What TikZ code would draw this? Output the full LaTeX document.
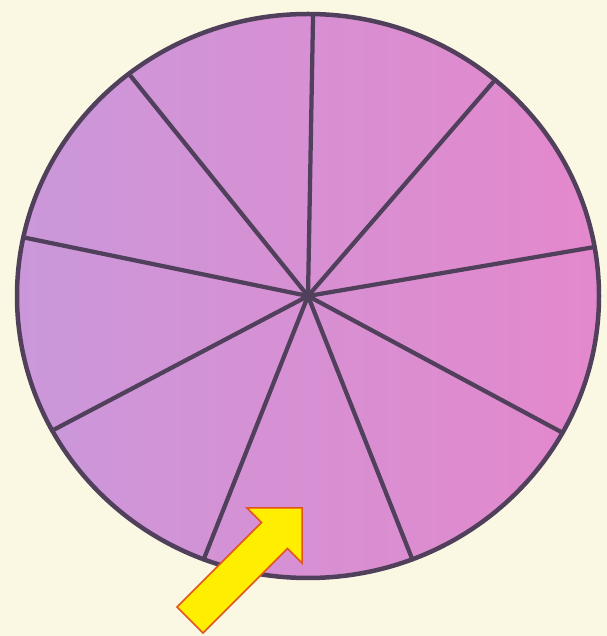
\documentclass[tikz,border=0pt]{standalone}
\usepackage{xcolor}
\usepackage{tikz}
\definecolor{papercream}{RGB}{250,247,226}
\definecolor{wheellilac}{RGB}{202,152,218}
\definecolor{wheelpink}{RGB}{228,136,204}
\definecolor{rimgray}{RGB}{80,64,92}
\definecolor{arrowyellow}{RGB}{255,238,0}
\definecolor{arroworange}{RGB}{226,84,30}
\tikzset{
  rim/.style={draw=rimgray,line width=0.09cm,left color=wheellilac,right color=wheelpink},
  spoke/.style={draw=rimgray,line width=0.085cm,line cap=round},
  pointer/.style={fill=arrowyellow,draw=arroworange,line width=0.03cm,line join=miter}
}

\begin{document}
\begin{tikzpicture}[x=0.02cm,y=0.02cm]
      \fill[papercream] (0,0) rectangle (607,636);
      \useasboundingbox (0,0) rectangle (607,636);

      \coordinate (hub) at (308,340);
      \path[rim] (hub) ellipse [x radius=291,y radius=282];

      % nine spokes, not quite even
      \foreach \a in {89,50,10,-29,-69,-111,-151.5,168,128}
        \draw[spoke] (hub) -- ++(\a:291 and 282);
      \fill[rimgray] (hub) circle (6);

      % yellow arrow pointing into the bottom sector
      \coordinate (tail) at (190,16);
      \begin{scope}[shift={(tail)},rotate=45]
        \draw[pointer] (0,-18.4) -- (119.5,-18.4) -- (119.5,-38.9) -- (158.5,0)
          -- (119.5,38.9) -- (119.5,18.4) -- (0,18.4) -- cycle;
      \end{scope}
    \end{tikzpicture}
\end{document}
